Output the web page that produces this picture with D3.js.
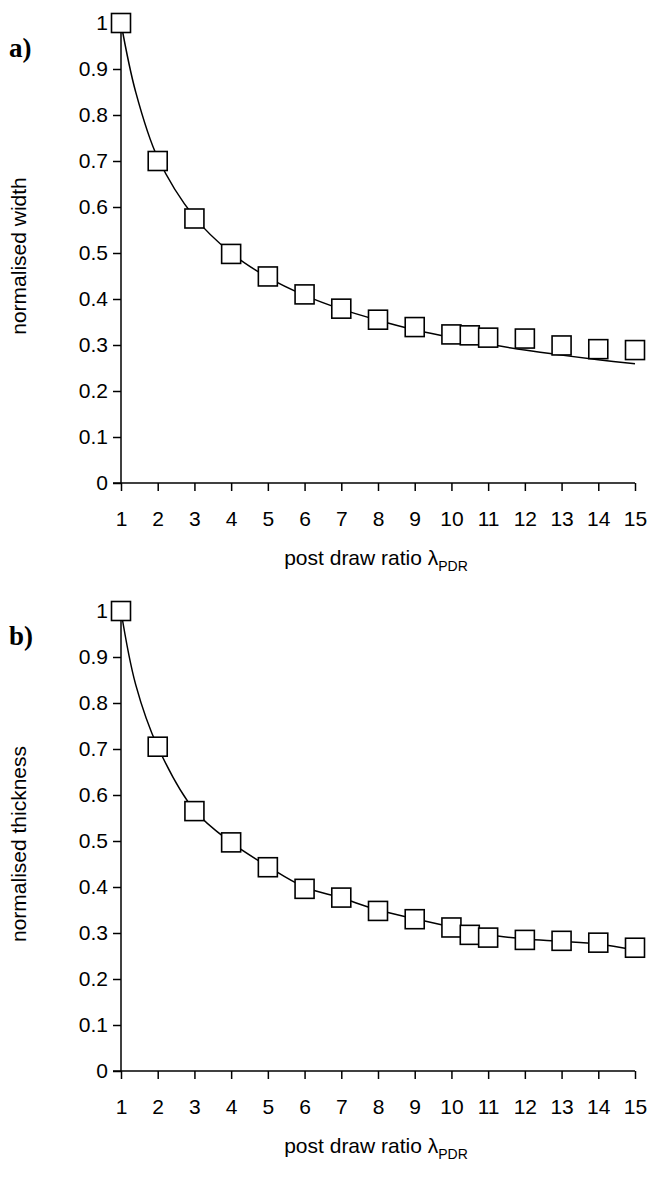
<!DOCTYPE html>
<html>
<head>
<meta charset="utf-8">
<script src="https://cdn.jsdelivr.net/npm/d3@7"></script>
<style>
  html, body { margin: 0; padding: 0; background: #fff; }
  svg { display: block; }
  text { font-family: "Liberation Sans", Arial, sans-serif; fill: #000; }
</style>
</head>
<body>
<svg id="chart" width="650" height="1182"></svg>
<script>
// Post draw ratio values (x) and tick labels
const xTickValues = [1, 2, 3, 4, 5, 6, 7, 8, 9, 10, 11, 12, 13, 14, 15];
const yTickValues = [0, 0.1, 0.2, 0.3, 0.4, 0.5, 0.6, 0.7, 0.8, 0.9, 1];

// Measured points: draw ratio and normalised width / thickness
const pdrMeasured = [1, 2, 3, 4, 5, 6, 7, 8, 9, 10, 10.5, 11, 12, 13, 14, 15];
const widthMeasured = [1.0, 0.70, 0.575, 0.498, 0.449, 0.410, 0.379, 0.355, 0.339, 0.323, 0.321, 0.316, 0.314, 0.299, 0.291, 0.289];
const thicknessMeasured = [1.0, 0.705, 0.565, 0.497, 0.443, 0.396, 0.377, 0.348, 0.330, 0.312, 0.296, 0.290, 0.285, 0.283, 0.279, 0.268];

// Model curves
const pdrModel = [1, 1.4, 2, 3, 4, 5, 6, 7, 8, 9, 10, 11, 12, 13, 14, 15];
const widthModel = [1.0, 0.85, 0.707, 0.578, 0.5, 0.447, 0.408, 0.378, 0.354, 0.333, 0.316, 0.302, 0.289, 0.278, 0.268, 0.259];
const thicknessModel = [1.0, 0.84, 0.705, 0.567, 0.497, 0.445, 0.400, 0.376, 0.350, 0.331, 0.313, 0.296, 0.287, 0.282, 0.276, 0.263];

const panels = [
  { tag: "a)", ylabel: "normalised width", top: 23, xs: pdrMeasured, ys: widthMeasured, mx: pdrModel, my: widthModel },
  { tag: "b)", ylabel: "normalised thickness", top: 611, xs: pdrMeasured, ys: thicknessMeasured, mx: pdrModel, my: thicknessModel }
];

const svg = d3.select("#chart");
const left = 121, right = 635, plotH = 460;
const markerSize = 19;
const fontPx = "21px";

panels.forEach(p => {
  const g = svg.append("g");
  const x = d3.scaleLinear().domain([1, 15]).range([left, right]);
  const y = d3.scaleLinear().domain([0, 1]).range([p.top + plotH, p.top]);

  // y axis
  const yAxis = d3.axisLeft(y).tickValues(yTickValues)
    .tickFormat(d => d3.format("~g")(d)).tickSize(8).tickPadding(5);
  const ya = g.append("g").attr("transform", `translate(${left},0)`).call(yAxis);
  ya.attr("font-family", null).attr("font-size", null);
  ya.select(".domain").attr("stroke", "#000").attr("stroke-width", 1.5)
    .attr("d", `M0,${p.top + plotH}V${p.top}`);
  ya.selectAll(".tick line").attr("stroke", "#000").attr("stroke-width", 1.5);
  ya.selectAll(".tick text").style("font-size", fontPx);

  // x axis
  const xAxis = d3.axisBottom(x).tickValues(xTickValues).tickSize(8).tickPadding(20);
  const xa = g.append("g").attr("transform", `translate(0,${p.top + plotH})`).call(xAxis);
  xa.attr("font-family", null).attr("font-size", null);
  xa.select(".domain").attr("stroke", "#000").attr("stroke-width", 1.5)
    .attr("d", `M${left - 8},0H${right}`);
  xa.selectAll(".tick line").attr("stroke", "#000").attr("stroke-width", 1.5);
  xa.selectAll(".tick text").style("font-size", fontPx);

  // model curve
  const line = d3.line().x((d, i) => x(p.mx[i])).y(d => y(d)).curve(d3.curveCatmullRom.alpha(0.5));
  g.append("path").datum(p.my).attr("d", line)
    .attr("fill", "none").attr("stroke", "#000").attr("stroke-width", 1.5);

  // measured squares
  g.selectAll("rect.pt").data(p.ys).join("rect").attr("class", "pt")
    .attr("x", (d, i) => x(p.xs[i]) - markerSize / 2)
    .attr("y", d => y(d) - markerSize / 2)
    .attr("width", markerSize).attr("height", markerSize)
    .attr("fill", "#fff").attr("stroke", "#000").attr("stroke-width", 1.6);

  // axis titles
  const xt = g.append("text").attr("x", 376).attr("y", p.top + plotH + 82)
    .attr("text-anchor", "middle").style("font-size", fontPx);
  xt.append("tspan").text("post draw ratio λ");
  xt.append("tspan").attr("dy", 6).style("font-size", "14px").text("PDR");

  g.append("text")
    .attr("transform", `translate(26,${p.top + plotH / 2 + 3}) rotate(-90)`)
    .attr("text-anchor", "middle").style("font-size", fontPx).text(p.ylabel);

  // panel tag
  g.append("text").attr("x", 9).attr("y", p.top + 34)
    .style("font-family", "'Liberation Serif', 'Times New Roman', serif")
    .style("font-weight", "bold").style("font-size", "27px").text(p.tag);
});
</script>
</body>
</html>
